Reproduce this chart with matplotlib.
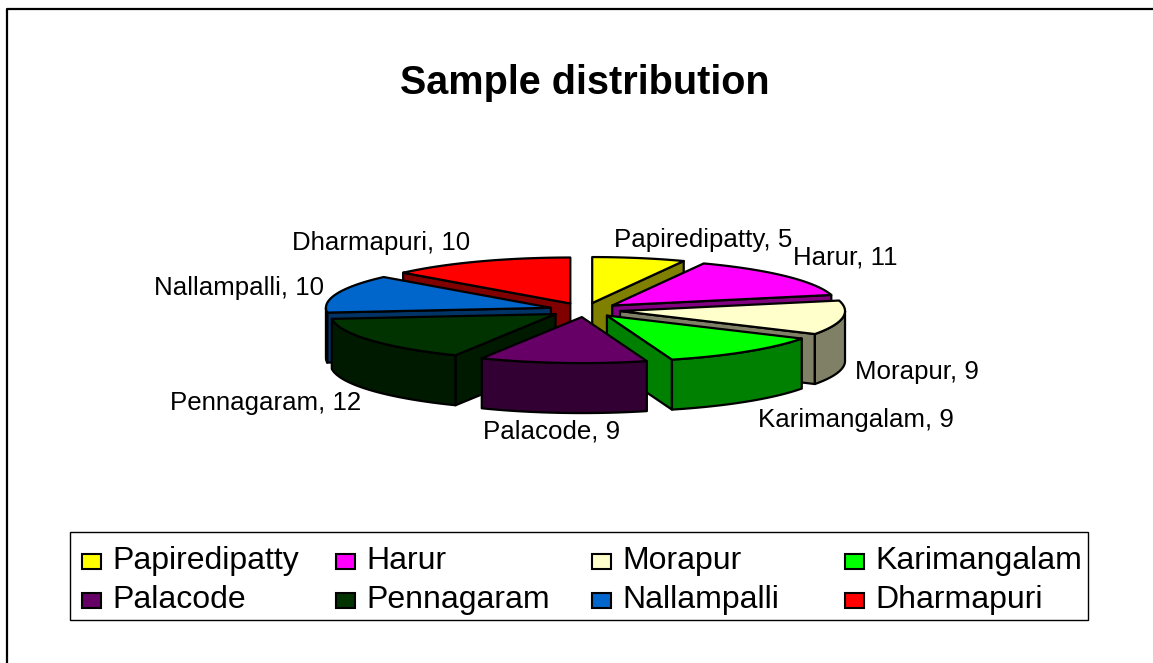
import numpy as np
import matplotlib
matplotlib.use("Agg")
import matplotlib.pyplot as plt
from matplotlib.patches import Polygon, Rectangle

categories = ["Papiredipatty", "Harur", "Morapur", "Karimangalam",
              "Palacode", "Pennagaram", "Nallampalli", "Dharmapuri"]
values = [5, 11, 9, 9, 9, 12, 10, 10]
top_colors = ["#FFFF00", "#FF00FF", "#FFFFCC", "#00FF00",
              "#660066", "#003300", "#0066CC", "#FF0000"]
side_colors = ["#808000", "#800080", "#808066", "#008000",
               "#330033", "#001A00", "#003366", "#800000"]
label_pos = [(614, 240), (793, 257), (855, 372), (758, 420),
             (483, 431), (170, 403), (154, 288), (292, 243)]

plt.rcParams['font.family'] = ['Liberation Sans', 'DejaVu Sans']
fig = plt.figure(figsize=(11.53, 6.63), dpi=100)
ax = fig.add_axes([0, 0, 1, 1])
ax.set_xlim(0, 1153)
ax.set_ylim(663, 0)
ax.axis("off")

# chart frame: only the left and top edges fall inside the picture
ax.plot([6.5, 6.5, 1153], [663, 9, 9], color="black", lw=1.6)

CX, CY, RX, RY, EX, EY, DEPTH = 584.8, 310, 225, 46, 35.6, 7.1, 50

def pt(ax0, ay0, deg, r=1.0):
    t = np.radians(deg)
    return ax0 + RX * r * np.sin(t), ay0 - RY * r * np.cos(t)

edges = np.cumsum([0] + values) / sum(values) * 360
order = [7, 0, 1, 6, 2, 5, 3, 4]
kw = dict(edgecolor="black", lw=1.6, joinstyle="round")
for i in order:
    a, b = edges[i], edges[i + 1]
    mid = np.radians((a + b) / 2)
    x0 = CX + EX * np.sin(mid)
    y0 = CY - EY * np.cos(mid)
    # radial faces
    faces = []
    if 0 < b % 360 < 180:
        faces.append(b)
    if 180 < a < 360:
        faces.append(a)
    for f in faces:
        xf, yf = pt(x0, y0, f)
        ax.add_patch(Polygon([(x0, y0), (xf, yf), (xf, yf + DEPTH), (x0, y0 + DEPTH)],
                             facecolor=side_colors[i], **kw))
    # outer wall: the part of the rim on the near half
    lo, hi = max(a, 90), min(b, 270)
    if lo < hi:
        th = np.linspace(lo, hi, 60)
        xs, ys = pt(x0, y0, th)
        ax.add_patch(Polygon(np.r_[np.c_[xs, ys], np.c_[xs[::-1], ys[::-1] + DEPTH]],
                             facecolor=side_colors[i], **kw))
    # top
    th = np.linspace(a, b, 60)
    xs, ys = pt(x0, y0, th)
    ax.add_patch(Polygon(np.r_[[(x0, y0)], np.c_[xs, ys]], facecolor=top_colors[i], **kw))

for name, v, (x, y) in zip(categories, values, label_pos):
    ax.text(x, y, f"{name}, {v}", fontsize=18.6, ha="left", va="center", color="black")

ax.text(585, 83, "Sample distribution", fontsize=28.5, fontweight="bold",
        ha="center", va="center", color="black")

# legend
ax.add_patch(Rectangle((70, 532), 1018, 88, facecolor="white", edgecolor="black", lw=1.0))
col_x = [82, 336, 592, 845]
row_y = [561, 600]
for k, name in enumerate(categories):
    x, y = col_x[k % 4], row_y[k // 4]
    ax.add_patch(Rectangle((x, y - 7.5), 19, 15, facecolor=top_colors[k],
                           edgecolor="black", lw=1.5))
    ax.text(x + 30, y, name, fontsize=23, ha="left", va="center", color="black")

fig.savefig("out.png", dpi=100, facecolor="white")
